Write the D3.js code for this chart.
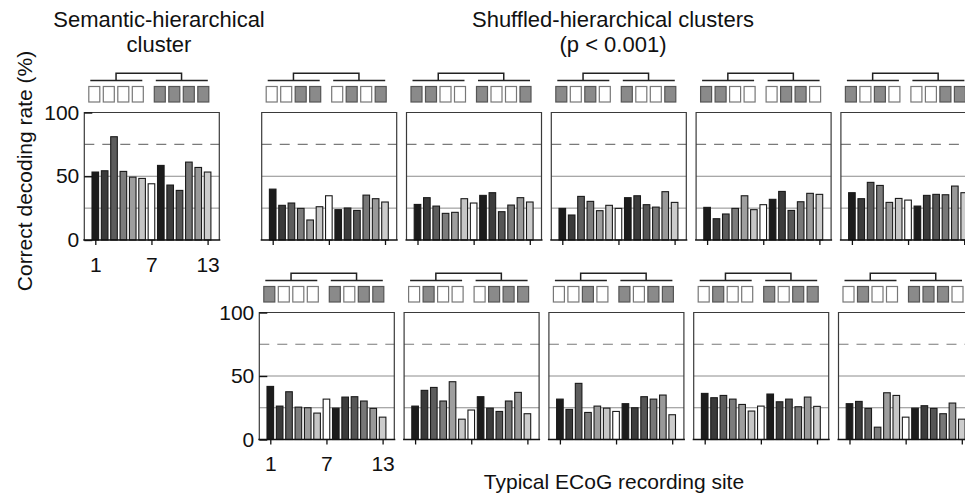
<!DOCTYPE html>
<html>
<head>
<meta charset="utf-8">
<script src="https://cdn.jsdelivr.net/npm/d3@7"></script>
<style>
  html, body { margin: 0; padding: 0; background: #fff; }
  svg { display: block; }
  text { font-family: "Liberation Sans", Arial, Helvetica, sans-serif; fill: #111; }
</style>
</head>
<body>
<svg id="chart" width="965" height="494"></svg>
<script>
// ---------- data ----------
const sites = [1, 2, 3, 4, 5, 6, 7, 8, 9, 10, 11, 12, 13];
const xTicks = [1, 7, 13];
const yTicks = [0, 50, 100];
const gridSolid = [25, 50];
const gridDashed = [75];

// correct decoding rate (%) per recording site
const semantic   = [53.3, 54.3, 81.0, 53.8, 49.3, 48.3, 44.1, 58.5, 43.1, 38.9, 61.1, 56.9, 53.3];
const shuffled1  = [39.9, 27.2, 29.0, 24.8, 15.7, 26.1, 34.7, 23.8, 25.1, 23.2, 35.2, 32.4, 29.8];
const shuffled2  = [27.9, 33.2, 26.6, 20.9, 21.7, 32.4, 29.0, 35.0, 37.1, 22.2, 27.4, 33.2, 29.8];
const shuffled3  = [24.8, 19.6, 34.2, 30.3, 23.0, 27.2, 24.8, 33.2, 34.7, 27.7, 25.8, 37.9, 29.5];
const shuffled4  = [25.6, 16.7, 20.4, 24.8, 34.7, 23.8, 27.7, 31.9, 38.1, 23.2, 30.0, 36.6, 35.8];
const shuffled5  = [37.1, 32.4, 45.2, 42.8, 29.5, 32.6, 31.3, 26.6, 35.0, 35.8, 35.5, 42.3, 37.1];
const shuffled6  = [41.8, 26.3, 37.6, 25.5, 25.0, 20.8, 31.8, 24.7, 33.4, 33.7, 30.3, 24.5, 17.6];
const shuffled7  = [26.3, 38.7, 41.0, 30.3, 45.5, 16.0, 23.2, 33.7, 24.7, 22.1, 30.3, 37.1, 20.3];
const shuffled8  = [31.8, 23.7, 44.2, 21.3, 26.3, 24.7, 22.1, 28.2, 25.0, 33.7, 31.8, 35.0, 19.5];
const shuffled9  = [36.3, 32.9, 34.7, 31.8, 27.6, 22.4, 26.3, 35.8, 29.7, 31.8, 25.8, 33.4, 26.1];
const shuffled10 = [28.2, 30.0, 24.5,  9.7, 36.8, 34.7, 17.6, 24.7, 26.6, 24.5, 20.3, 28.7, 16.0];

// cluster membership of the 8 items (1 = grey item, 0 = white item), two groups of four
const clusterSemantic = [0, 0, 0, 0, 1, 1, 1, 1];
const cluster1  = [0, 0, 1, 1, 0, 1, 0, 1];
const cluster2  = [1, 1, 0, 0, 1, 0, 0, 1];
const cluster3  = [1, 0, 1, 0, 1, 0, 0, 1];
const cluster4  = [1, 1, 0, 0, 0, 1, 1, 0];
const cluster5  = [1, 0, 1, 0, 0, 0, 1, 1];
const cluster6  = [1, 0, 0, 0, 1, 0, 1, 1];
const cluster7  = [0, 1, 0, 0, 0, 1, 1, 1];
const cluster8  = [0, 0, 1, 0, 1, 0, 1, 1];
const cluster9  = [0, 1, 0, 0, 1, 0, 1, 1];
const cluster10 = [0, 1, 0, 0, 1, 1, 1, 0];

// ---------- styling ----------
const barColors = ['#1c1c1c', '#3a3a3a', '#5c5c5c', '#7c7c7c', '#9e9e9e', '#c6c6c6', '#ffffff',
                   '#1c1c1c', '#3c3c3c', '#555555', '#777777', '#999999', '#cccccc'];
const PW = 135;          // panel width
const rowTop = [112.5, 312.5];
const rowBottom = [240, 439.5];
const panels = [
  { left: 84.3,  row: 0, values: semantic,   cluster: clusterSemantic, axes: true },
  { left: 261.7, row: 0, values: shuffled1,  cluster: cluster1 },
  { left: 406.5, row: 0, values: shuffled2,  cluster: cluster2 },
  { left: 551.3, row: 0, values: shuffled3,  cluster: cluster3 },
  { left: 696.1, row: 0, values: shuffled4,  cluster: cluster4 },
  { left: 840.9, row: 0, values: shuffled5,  cluster: cluster5 },
  { left: 259.3, row: 1, values: shuffled6,  cluster: cluster6, axes: true },
  { left: 404.1, row: 1, values: shuffled7,  cluster: cluster7 },
  { left: 548.9, row: 1, values: shuffled8,  cluster: cluster8 },
  { left: 693.7, row: 1, values: shuffled9,  cluster: cluster9 },
  { left: 838.5, row: 1, values: shuffled10, cluster: cluster10 }
];

const svg = d3.select('#chart');

panels.forEach(p => {
  const top = rowTop[p.row], bottom = rowBottom[p.row];
  const x = d3.scaleLinear().domain([1, 13]).range([p.left + 11, p.left + 123.3]);
  const y = d3.scaleLinear().domain([0, 100]).range([bottom, top]);
  const g = svg.append('g');

  // grid lines
  g.selectAll('.gs').data(gridSolid).enter().append('line')
    .attr('x1', p.left).attr('x2', p.left + PW)
    .attr('y1', d => y(d)).attr('y2', d => y(d))
    .attr('stroke', '#8c8c8c').attr('stroke-width', 1);
  g.selectAll('.gd').data(gridDashed).enter().append('line')
    .attr('x1', p.left).attr('x2', p.left + PW)
    .attr('y1', d => y(d)).attr('y2', d => y(d))
    .attr('stroke', '#7a7a7a').attr('stroke-width', 1.2)
    .attr('stroke-dasharray', '10,8');

  // bars
  const bw = 6.6;
  g.selectAll('rect.bar').data(p.values).enter().append('rect')
    .attr('class', 'bar')
    .attr('x', (d, i) => x(sites[i]) - bw / 2)
    .attr('width', bw)
    .attr('y', d => y(d))
    .attr('height', d => y(0) - y(d))
    .attr('fill', (d, i) => barColors[i])
    .attr('stroke', '#1a1a1a').attr('stroke-width', 1.1);

  // frame
  g.append('path')
    .attr('d', `M${p.left},${y(0)}V${y(100)}H${p.left + PW}V${y(0)}`)
    .attr('fill', 'none').attr('stroke', '#3a3a3a').attr('stroke-width', 1.2);
  // x axis line + ticks
  const xa = d3.axisBottom(x).tickValues(xTicks).tickSize(5).tickFormat(p.axes ? d3.format('d') : '');
  const ax = g.append('g').attr('transform', `translate(0,${y(0)})`).call(xa);
  ax.select('.domain').remove();
  g.append('line').attr('x1', p.left - 1).attr('x2', p.left + PW + 1)
    .attr('y1', y(0)).attr('y2', y(0)).attr('stroke', '#111').attr('stroke-width', 1.6);
  ax.selectAll('.tick line').attr('stroke', '#111').attr('stroke-width', 1.3);
  ax.selectAll('.tick text').attr('font-size', 21).attr('dy', 0).attr('y', 31.5)
    .style('font-family', '"Liberation Sans", Arial, sans-serif').attr('fill', '#111');

  if (p.axes) {
    const ya = d3.axisLeft(y).tickValues(yTicks).tickSize(-8).tickPadding(6);
    const ay = g.append('g').attr('transform', `translate(${p.left},0)`).call(ya);
    ay.select('.domain').remove();
    ay.selectAll('.tick line').attr('stroke', '#111').attr('stroke-width', 1.4);
    ay.selectAll('.tick text').attr('font-size', 21).attr('x', -5)
      .style('font-family', '"Liberation Sans", Arial, sans-serif').attr('fill', '#111');
  }

  // dendrogram of the 8 items
  const boxW = 11, boxH = 15.5, step = 14.5;
  const groupStart = [p.left + 4.5, p.left + 70];
  const boxX = i => groupStart[Math.floor(i / 4)] + (i % 4) * step;
  const boxY = top - 26;
  g.selectAll('rect.item').data(p.cluster).enter().append('rect')
    .attr('class', 'item')
    .attr('x', (d, i) => boxX(i)).attr('y', boxY)
    .attr('width', boxW).attr('height', boxH)
    .attr('fill', d => d ? '#8a8a8a' : '#ffffff')
    .attr('stroke', d => d ? '#555' : '#777').attr('stroke-width', 1.2);
  const lineY = top - 32, brY = top - 39.3;
  const centers = groupStart.map(s => s + (3 * step + boxW) / 2);
  groupStart.forEach(s => {
    g.append('line').attr('x1', s + 1.5).attr('x2', s + 3 * step + boxW - 1)
      .attr('y1', lineY).attr('y2', lineY).attr('stroke', '#222').attr('stroke-width', 1.5);
  });
  g.append('path')
    .attr('d', `M${centers[0]},${lineY}V${brY}H${centers[1]}V${lineY}`)
    .attr('fill', 'none').attr('stroke', '#222').attr('stroke-width', 1.5);
});

// titles
const titles = [
  { x: 159, lines: ['Semantic-hierarchical', 'cluster'] },
  { x: 613, lines: ['Shuffled-hierarchical clusters', '(p < 0.001)'] }
];
titles.forEach(t => {
  t.lines.forEach((l, i) => {
    svg.append('text').attr('x', t.x).attr('y', 27 + i * 25)
      .attr('text-anchor', 'middle').attr('font-size', 22).text(l);
  });
});

svg.append('text')
  .attr('transform', 'translate(32,171) rotate(-90)')
  .attr('text-anchor', 'middle').attr('font-size', 21)
  .text('Correct decoding rate (%)');

svg.append('text').attr('x', 614).attr('y', 489)
  .attr('text-anchor', 'middle').attr('font-size', 21)
  .text('Typical ECoG recording site');
</script>
</body>
</html>
